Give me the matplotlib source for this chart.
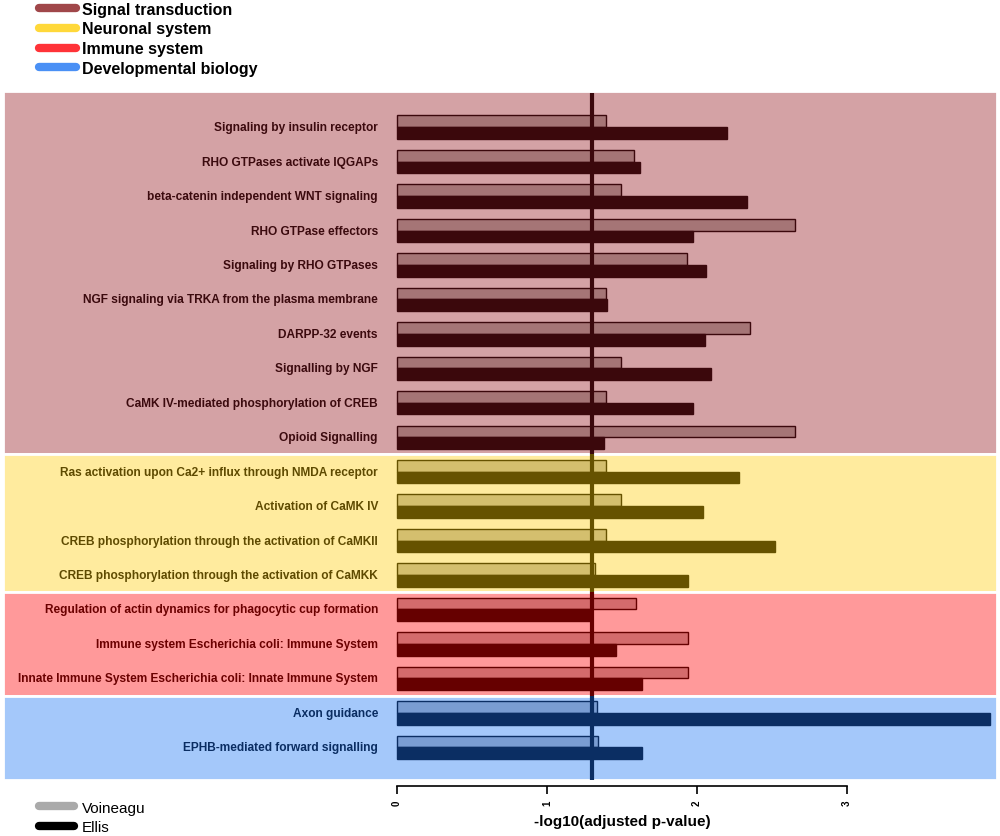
import numpy as np
import matplotlib
matplotlib.use('Agg')
import matplotlib.pyplot as plt
from matplotlib.lines import Line2D

plt.rcParams['font.family'] = ['Liberation Sans', 'DejaVu Sans']

# pathway names, top to bottom
pathways = [
    'Signaling by insulin receptor',
    'RHO GTPases activate IQGAPs',
    'beta-catenin independent WNT signaling',
    'RHO GTPase effectors',
    'Signaling by RHO GTPases',
    'NGF signaling via TRKA from the plasma membrane',
    'DARPP-32 events',
    'Signalling by NGF',
    'CaMK IV-mediated phosphorylation of CREB',
    'Opioid Signalling',
    'Ras activation upon Ca2+ influx through NMDA receptor',
    'Activation of CaMK IV',
    'CREB phosphorylation through the activation of CaMKII',
    'CREB phosphorylation through the activation of CaMKK',
    'Regulation of actin dynamics for phagocytic cup formation',
    'Immune system Escherichia coli: Immune System',
    'Innate Immune System Escherichia coli: Innate Immune System',
    'Axon guidance',
    'EPHB-mediated forward signalling',
]
group_of = [0] * 10 + [1] * 4 + [2] * 3 + [3] * 2

# -log10(adjusted p-value)
voineagu = [1.39, 1.58, 1.49, 2.65, 1.93, 1.39, 2.35, 1.49, 1.39, 2.65,
            1.39, 1.49, 1.39, 1.32,
            1.59, 1.94, 1.94,
            1.33, 1.34]
ellis = [2.20, 1.62, 2.33, 1.97, 2.06, 1.40, 2.05, 2.09, 1.97, 1.38,
         2.28, 2.04, 2.52, 1.94,
         1.29, 1.46, 1.63,
         3.95, 1.63]

groups = ['Signal transduction', 'Neuronal system', 'Immune system', 'Developmental biology']
legend_cols = ['#a0474a', '#ffd83a', '#ff3338', '#4a90f5']
band_cols = ['#d4a2a5', '#ffeb9e', '#ff999a', '#a4c8fa']
light_cols = ['#a57576', '#d4bf6e', '#d46b6c', '#7a9dd2']
dark_cols = ['#3b080c', '#665200', '#660000', '#0b2e63']
text_cols = ['#3b0a0e', '#5e4a00', '#6b0000', '#0a2d62']

cutoff = -np.log10(0.05)

fig = plt.figure(figsize=(10, 8.37), dpi=100)
ax = fig.add_axes([0.003, 1 - 781 / 837, 0.994, (781 - 92) / 837])

n = len(pathways)
y = np.arange(n)
ax.set_xlim(-2.627, 4.0)
ax.set_ylim(n - 0.05, -1.05)

# group background bands
bounds = [-1.05, 9.5, 13.5, 16.5, n - 0.05]
for g in range(4):
    ax.axhspan(bounds[g], bounds[g + 1], color=band_cols[g], ec='white', lw=2, zorder=0)

h = 0.34
for i in range(n):
    g = group_of[i]
    ax.barh(y[i] - h / 2, voineagu[i], height=h, color=light_cols[g],
            edgecolor=dark_cols[g], lw=1, zorder=2)
    ax.barh(y[i] + h / 2, ellis[i], height=h, color=dark_cols[g],
            edgecolor=dark_cols[g], lw=1, zorder=2)
    ax.text(-0.127, y[i], pathways[i], ha='right', va='center',
            fontsize=8.6, fontweight='bold', color=text_cols[g])

# significance line, coloured per group
for g in range(4):
    lo = max(bounds[g], -1.0)
    ax.vlines(cutoff, lo, bounds[g + 1], color=dark_cols[g], lw=3, zorder=3)

for s in ['top', 'right', 'left']:
    ax.spines[s].set_visible(False)
ax.spines['bottom'].set_position(('outward', 4))
ax.spines['bottom'].set_bounds(0, 3)
ax.spines['bottom'].set_linewidth(1.2)
ax.set_yticks([])
ax.set_xticks([0, 1, 2, 3])
ax.set_xticklabels(['0', '1', '2', '3'], rotation=90, fontsize=7, fontweight='bold')
ax.tick_params(axis='x', length=6, width=1.2, pad=4)
ax.patch.set_visible(False)

fig.text(0.622, 1 - 822 / 837, '-log10(adjusted p-value)', ha='center', va='center',
         fontsize=11, fontweight='bold')

# category legend
handles = [Line2D([0], [0], color=c, lw=6, solid_capstyle='round') for c in legend_cols]
fig.legend(handles, groups, loc='upper left', bbox_to_anchor=(0.025, 1.014),
           frameon=False, prop={'size': 11.5, 'weight': 'bold'},
           handlelength=2.3, handletextpad=0.4, labelspacing=0.3)

# dataset legend
handles2 = [Line2D([0], [0], color=c, lw=6, solid_capstyle='round') for c in ['#aaaaaa', '#000000']]
fig.legend(handles2, ['Voineagu', 'Ellis'], loc='lower left', bbox_to_anchor=(0.025, -0.014),
           frameon=False, prop={'size': 11}, handlelength=2.3, handletextpad=0.5,
           labelspacing=0.35)

fig.savefig('out.png', dpi=100)
